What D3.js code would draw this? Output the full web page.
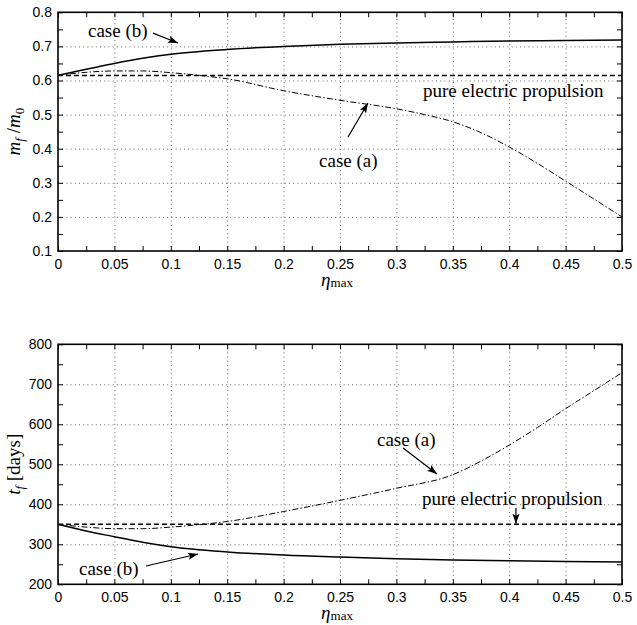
<html>
<head>
<meta charset="utf-8">
<title>mf/m0 and tf vs eta max</title>
<script src="https://d3js.org/d3.v7.min.js"></script>
<style>
  body { margin: 0; background: #fff; }
  .tick text { font-family: "Liberation Sans", Arial, sans-serif; font-size: 14px; fill: #000; }
  .grid line { stroke: #555; stroke-width: 0.9; stroke-dasharray: 1, 3.2; }
  .grid path, .ticks path { display: none; }
  .ticks line { stroke: #000; stroke-width: 1; }
  .ann { font-family: "Liberation Serif", "DejaVu Serif", serif; font-size: 19px; fill: #000; }
  .lab { font-family: "Liberation Serif", "DejaVu Serif", serif; fill: #000; }
</style>
</head>
<body>
<div id="chart"></div>
<script>
// x values shared by the panels
const etaTicks = [0, 0.05, 0.1, 0.15, 0.2, 0.25, 0.3, 0.35, 0.4, 0.45, 0.5];
const etaMinor = d3.range(0, 0.5001, 0.025);

// top panel: final mass ratio
const mfTicks = [0.1, 0.2, 0.3, 0.4, 0.5, 0.6, 0.7, 0.8];
const mfMinor = d3.range(0.1, 0.8001, 0.05);
const etaB1 = [0, 0.025, 0.05, 0.075, 0.1, 0.15, 0.2, 0.25, 0.3, 0.35, 0.4, 0.45, 0.5];
const mfCaseB = [0.615, 0.633, 0.650, 0.665, 0.677, 0.691, 0.700, 0.706, 0.710, 0.713, 0.716, 0.717, 0.719];
const etaA1 = [0, 0.025, 0.05, 0.075, 0.1, 0.125, 0.15, 0.2, 0.25, 0.3, 0.325, 0.35, 0.375, 0.4, 0.425, 0.45, 0.5];
const mfCaseA = [0.615, 0.624, 0.628, 0.628, 0.623, 0.615, 0.605, 0.570, 0.542, 0.517, 0.500, 0.479, 0.447, 0.405, 0.357, 0.305, 0.200];
const etaPure = [0, 0.5];
const mfPure = [0.615, 0.615];

// bottom panel: flight time in days
const tfTicks = [200, 300, 400, 500, 600, 700, 800];
const tfMinor = d3.range(200, 800.1, 50);
const etaB2 = [0, 0.025, 0.05, 0.075, 0.1, 0.15, 0.2, 0.25, 0.3, 0.35, 0.4, 0.45, 0.5];
const tfCaseB = [350, 333, 319, 305, 294, 281, 273, 268, 264, 261, 259, 257, 256];
const etaA2 = [0, 0.025, 0.05, 0.075, 0.1, 0.125, 0.15, 0.2, 0.25, 0.3, 0.35, 0.375, 0.4, 0.425, 0.45, 0.475, 0.5];
const tfCaseA = [350, 343, 339, 339, 343, 349, 357, 382, 410, 440, 474, 508, 548, 592, 639, 684, 729];
const tfPure = [350, 350];

const W = 637, H = 625;
const left = 58, right = 622;

const svg = d3.select("#chart").append("svg")
  .attr("width", W).attr("height", H);

svg.append("defs").append("marker")
  .attr("id", "arr")
  .attr("markerUnits", "userSpaceOnUse")
  .attr("viewBox", "0 -4 10 8")
  .attr("refX", 10).attr("refY", 0)
  .attr("markerWidth", 10).attr("markerHeight", 8)
  .attr("orient", "auto")
  .append("path").attr("d", "M0,-3.6L10,0L0,3.6L2,0Z").attr("fill", "#000");

function panel(top, bottom, yDomain, yTicks, yMinor, series, notes, yLabel, xLabelY) {
  const x = d3.scaleLinear().domain([0, 0.5]).range([left, right]);
  const y = d3.scaleLinear().domain(yDomain).range([bottom, top]);
  const h = bottom - top, w = right - left;
  const g = svg.append("g");

  // dotted grid
  g.append("g").attr("class", "grid")
    .attr("transform", `translate(0,${bottom})`)
    .call(d3.axisBottom(x).tickValues(etaTicks.slice(1, -1)).tickSize(-h).tickFormat(""));
  g.append("g").attr("class", "grid")
    .attr("transform", `translate(${left},0)`)
    .call(d3.axisLeft(y).tickValues(yTicks.slice(1, -1)).tickSize(-w).tickFormat(""));

  // inward ticks on all four sides
  g.append("g").attr("class", "ticks").attr("transform", `translate(0,${bottom})`)
    .call(d3.axisBottom(x).tickValues(etaMinor).tickSize(-5).tickFormat(""));
  g.append("g").attr("class", "ticks").attr("transform", `translate(0,${top})`)
    .call(d3.axisTop(x).tickValues(etaMinor).tickSize(-5).tickFormat(""));
  g.append("g").attr("class", "ticks").attr("transform", `translate(${left},0)`)
    .call(d3.axisLeft(y).tickValues(yMinor).tickSize(-5).tickFormat(""));
  g.append("g").attr("class", "ticks").attr("transform", `translate(${right},0)`)
    .call(d3.axisRight(y).tickValues(yMinor).tickSize(-5).tickFormat(""));

  // tick labels
  g.append("g").attr("class", "ticks").attr("transform", `translate(0,${bottom})`)
    .call(d3.axisBottom(x).tickValues(etaTicks).tickSize(0).tickPadding(8).tickFormat(d => String(+d.toFixed(2))));
  g.append("g").attr("class", "ticks").attr("transform", `translate(${left},0)`)
    .call(d3.axisLeft(y).tickValues(yTicks).tickSize(0).tickPadding(6).tickFormat(d => String(+d.toFixed(2))));

  // curves
  const line = d3.line().x(d => x(d[0])).y(d => y(d[1])).curve(d3.curveMonotoneX);
  series.forEach(s => {
    g.append("path")
      .datum(s.xs.map((v, i) => [v, s.ys[i]]))
      .attr("d", line)
      .attr("fill", "none")
      .attr("stroke", "#000")
      .attr("stroke-width", s.width)
      .attr("stroke-dasharray", s.dash);
  });

  // frame
  g.append("rect").attr("x", left).attr("y", top).attr("width", w).attr("height", h)
    .attr("fill", "none").attr("stroke", "#000").attr("stroke-width", 1.6);

  // annotations
  notes.forEach(n => {
    g.append("text").attr("class", "ann")
      .attr("x", x(n.tx)).attr("y", y(n.ty)).text(n.text);
    if (n.arrow) {
      g.append("line")
        .attr("x1", x(n.arrow[0])).attr("y1", y(n.arrow[1]))
        .attr("x2", x(n.arrow[2])).attr("y2", y(n.arrow[3]))
        .attr("stroke", "#000").attr("stroke-width", 1.2)
        .attr("marker-end", "url(#arr)");
    }
  });

  // axis labels
  const yl = g.append("text").attr("class", "lab")
    .attr("transform", `translate(20,${(top + bottom) / 2}) rotate(-90)`)
    .attr("text-anchor", "middle").style("font-size", "19px");
  yLabel(yl);

  const xl = g.append("text").attr("class", "lab")
    .attr("x", 337).attr("y", xLabelY).attr("text-anchor", "middle");
  xl.append("tspan").style("font-style", "italic").style("font-size", "19px").text("η");
  xl.append("tspan").style("font-size", "13px").attr("dy", 1).text("max");
}

const dashA = "6,2.2,1.4,2.2";

panel(12.3, 251, [0.1, 0.8], mfTicks, mfMinor,
  [
    { xs: etaB1, ys: mfCaseB, width: 1.5, dash: null },
    { xs: etaPure, ys: mfPure, width: 1.5, dash: "5,3" },
    { xs: etaA1, ys: mfCaseA, width: 1, dash: dashA }
  ],
  [
    { text: "case (b)", tx: 0.0266, ty: 0.7276, arrow: [0.0842, 0.739, 0.1064, 0.710] },
    { text: "pure electric propulsion", tx: 0.3236, ty: 0.5516 },
    { text: "case (a)", tx: 0.2314, ty: 0.3463, arrow: [0.2571, 0.4343, 0.2748, 0.534] }
  ],
  t => {
    t.append("tspan").style("font-style", "italic").text("m");
    t.append("tspan").style("font-style", "italic").style("font-size", "13px").attr("dy", 4).text("f");
    t.append("tspan").attr("dy", -4).text(" /");
    t.append("tspan").style("font-style", "italic").text("m");
    t.append("tspan").style("font-size", "13px").attr("dy", 4).text("0");
  },
  286);

panel(344.3, 584.3, [200, 800], tfTicks, tfMinor,
  [
    { xs: etaB2, ys: tfCaseB, width: 1.5, dash: null },
    { xs: etaPure, ys: tfPure, width: 1.5, dash: "5,3" },
    { xs: etaA2, ys: tfCaseA, width: 1, dash: dashA }
  ],
  [
    { text: "case (b)", tx: 0.0186, ty: 223, arrow: [0.078, 245.75, 0.1241, 275.75] },
    { text: "case (a)", tx: 0.2828, ty: 545.75, arrow: [0.3059, 540.75, 0.336, 475.75] },
    { text: "pure electric propulsion", tx: 0.3227, ty: 398.25, arrow: [0.406, 390.75, 0.406, 351.5] }
  ],
  t => {
    t.append("tspan").style("font-style", "italic").text("t");
    t.append("tspan").style("font-style", "italic").style("font-size", "13px").attr("dy", 4).text("f");
    t.append("tspan").attr("dy", -4).text(" [days]");
  },
  619);
</script>
</body>
</html>
